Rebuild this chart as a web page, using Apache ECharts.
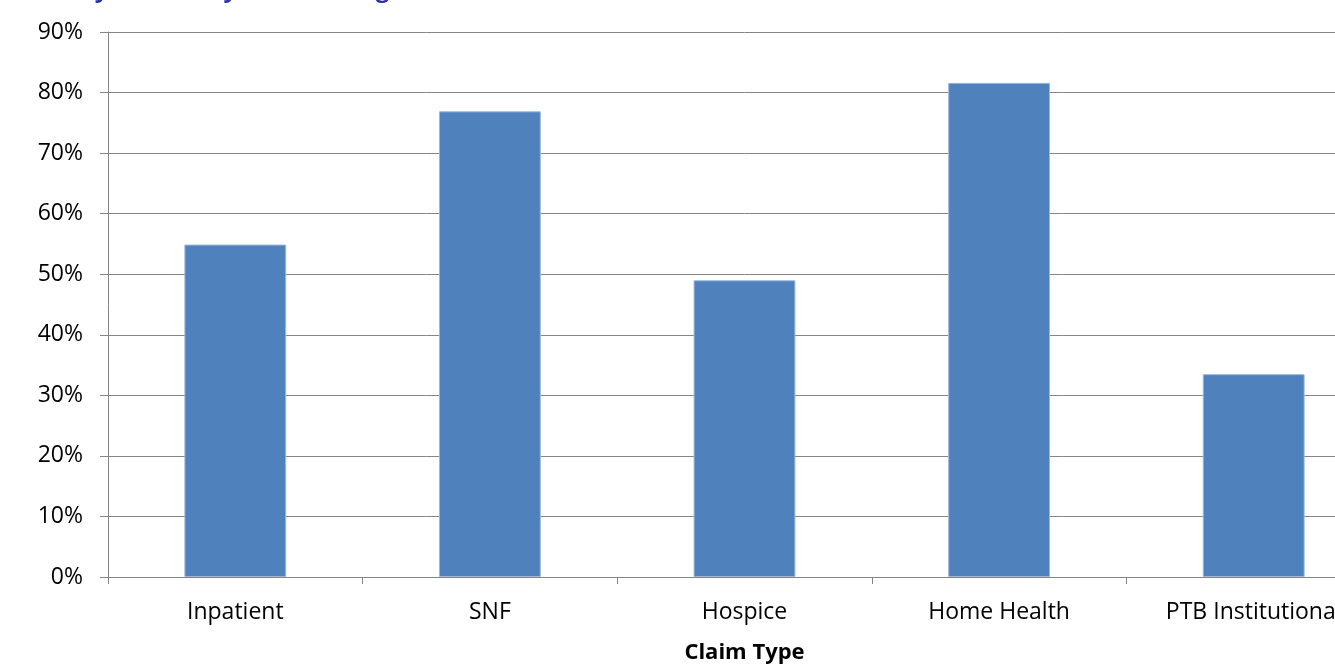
<!DOCTYPE html>
<html>
<head>
<meta charset="utf-8">
<title>Claim Type</title>
<script src="https://cdn.jsdelivr.net/npm/echarts@6/dist/echarts.min.js"></script>
<style>
  html, body { margin: 0; padding: 0; background: #ffffff; overflow: hidden; }
  /* the chart is wider than the window, so the last category runs off the right edge */
  #chart { width: 1400px; height: 666px; }
</style>
</head>
<body>
<div id="chart"></div>
<script>
// Claim types along the category axis
const categories = ['Inpatient', 'SNF', 'Hospice', 'Home Health', 'PTB Institutional'];
// Percentage per claim type
const percentValues = [54.9, 76.9, 49.0, 81.6, 33.5];
// Value axis range (percent)
const yMin = 0;
const yMax = 90;
const yStep = 10;
const titleText = 'Accuracy Results by Care Setting';
const axisTitle = 'Claim Type';

const chart = echarts.init(document.getElementById('chart'), null, { renderer: 'canvas' });

const axisGray = '#858585';
const fontFamily = '"Open Sans", "Noto Sans", sans-serif';

chart.setOption({
  animation: false,
  backgroundColor: '#ffffff',
  title: {
    text: titleText,
    left: 0,
    top: -22,
    padding: 0,
    textStyle: {
      color: '#2E2EA6',
      fontFamily: fontFamily,
      fontWeight: 'bold',
      fontSize: 24
    }
  },
  grid: {
    left: 108,
    top: 32,
    bottom: 89,
    right: 19,
    containLabel: false,
    outerBoundsMode: 'none'
  },
  xAxis: {
    type: 'category',
    data: categories,
    name: axisTitle,
    nameLocation: 'middle',
    nameGap: 65,
    nameTextStyle: {
      color: '#000000',
      fontFamily: fontFamily,
      fontWeight: 'bold',
      fontSize: 22
    },
    axisLine: { show: true, lineStyle: { color: axisGray, width: 1 } },
    axisTick: { show: true, length: 7, alignWithLabel: false, lineStyle: { color: axisGray } },
    axisLabel: {
      color: '#000000',
      fontFamily: fontFamily,
      fontSize: 23,
      margin: 24,
      interval: 0
    },
    splitLine: { show: false }
  },
  yAxis: {
    type: 'value',
    min: yMin,
    max: yMax,
    interval: yStep,
    axisLine: { show: true, lineStyle: { color: axisGray, width: 1 } },
    axisTick: { show: true, inside: false, length: 8, lineStyle: { color: axisGray } },
    axisLabel: {
      color: '#000000',
      fontFamily: fontFamily,
      fontSize: 23,
      margin: 25,
      formatter: '{value}%'
    },
    splitLine: { show: true, lineStyle: { color: axisGray, width: 1 } }
  },
  series: [{
    type: 'bar',
    data: percentValues,
    barCategoryGap: '60%',
    itemStyle: {
      color: '#4F81BD',
      borderColor: '#9DB8DA',
      borderWidth: 1
    },
    label: { show: false }
  }]
});
</script>
</body>
</html>
